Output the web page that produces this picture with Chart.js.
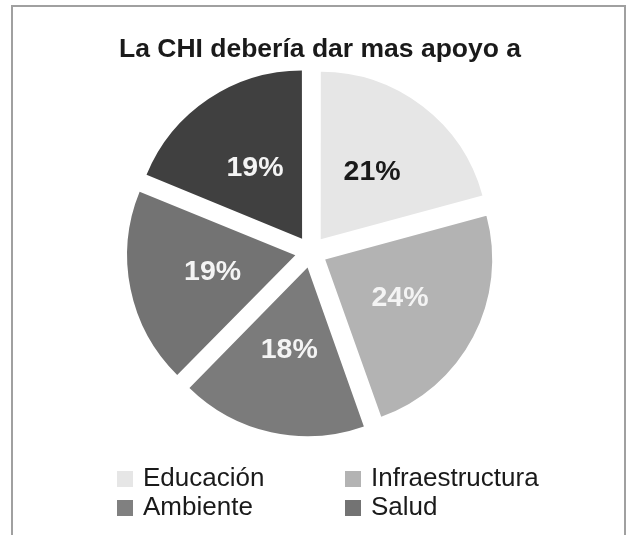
<!DOCTYPE html>
<html lang="es">
<head>
<meta charset="utf-8">
<title>La CHI debería dar mas apoyo a</title>
<script src="https://cdn.jsdelivr.net/npm/chart.js@4/dist/chart.umd.min.js"></script>
<style>
  html, body { margin: 0; padding: 0; background: #fff; overflow: hidden; }
  body { width: 628px; height: 535px; position: relative; font-family: "Liberation Sans", Arial, sans-serif; }
  .frame {
    position: absolute; left: 11px; top: 5px; width: 615px; height: 580px;
    border: 2px solid #a0a0a0; box-sizing: border-box;
  }
  #chartWrap { position: absolute; left: 0; top: 0; width: 628px; height: 535px; }
  #legend {
    position: absolute; left: 117px; top: 463px;
    display: grid; grid-template-columns: 228px 240px; row-gap: 0;
    font-size: 26px; line-height: 29px; color: #1a1a1a;
  }
  #legend .item { display: flex; align-items: center; white-space: nowrap; }
  #legend .box { width: 16px; height: 16px; margin-right: 10px; margin-top: 2px; flex: none; }
</style>
</head>
<body>
<div class="frame"></div>
<div id="chartWrap"><canvas id="pieChart" width="628" height="535"></canvas></div>
<div id="legend"></div>

<script>
// data
const chartTitle = 'La CHI debería dar mas apoyo a';
const categories = ['Educación', 'Infraestructura', 'Ambiente', 'Salud', 'Otros'];
const percentages = [21, 24, 18, 19, 19];
const sliceColors = ['#e6e6e6', '#b3b3b3', '#7b7b7b', '#737373', '#404040'];
const legendColors = ['#e6e6e6', '#b3b3b3', '#808080', '#737373', '#404040'];
const labelColors = ['#1a1a1a', '#f4f4f4', '#f4f4f4', '#f4f4f4', '#f4f4f4'];
// only the first four legend rows are visible in the (cropped) reference
const legendShown = 4;

// title sits a bit right of the pie centre in the reference
const titlePlugin = {
    id: 'titleText',
    afterDraw(chart) {
        const ctx = chart.ctx;
        ctx.save();
        ctx.font = 'bold 26.5px "Liberation Sans", Arial, sans-serif';
        ctx.fillStyle = '#1a1a1a';
        ctx.textAlign = 'center';
        ctx.textBaseline = 'alphabetic';
        ctx.fillText(chartTitle, 320, 57);
        ctx.restore();
    }
};

// percent labels inside each slice
const sliceLabels = {
    id: 'sliceLabels',
    afterDatasetsDraw(chart) {
        const ctx = chart.ctx;
        const meta = chart.getDatasetMeta(0);
        ctx.save();
        ctx.font = 'bold 28.5px "Liberation Sans", Arial, sans-serif';
        ctx.textAlign = 'center';
        ctx.textBaseline = 'middle';
        meta.data.forEach((arc, i) => {
            const p = arc.getProps(['x', 'y', 'startAngle', 'endAngle', 'outerRadius'], true);
            const mid = (p.startAngle + p.endAngle) / 2;
            const dist = p.outerRadius * 0.5 + 17;
            ctx.fillStyle = labelColors[i];
            ctx.fillText(percentages[i] + '%', p.x + Math.cos(mid) * dist, p.y + Math.sin(mid) * dist);
        });
        ctx.restore();
    }
};

try {
    const canvas = document.getElementById('pieChart');
    new Chart(canvas.getContext('2d'), {
        type: 'pie',
        data: {
            labels: categories,
            datasets: [{
                data: percentages,
                backgroundColor: sliceColors,
                borderWidth: 0,
                offset: 64,
                hoverOffset: 0,
                clip: false
            }]
        },
        options: {
            responsive: false,
            animation: false,
            radius: 167,
            layout: { padding: { top: 63, bottom: 94, left: 0, right: 6 } },
            plugins: {
                legend: { display: false },
                tooltip: { enabled: false },
                title: { display: false }
            }
        },
        plugins: [sliceLabels, titlePlugin]
    });
} catch(e) { console.warn('Pie chart failed', e); }

// html legend in two columns
const legendEl = document.getElementById('legend');
categories.slice(0, legendShown).forEach((name, i) => {
    const item = document.createElement('div');
    item.className = 'item';
    const box = document.createElement('span');
    box.className = 'box';
    box.style.background = legendColors[i];
    const txt = document.createElement('span');
    txt.textContent = name;
    item.appendChild(box);
    item.appendChild(txt);
    legendEl.appendChild(item);
});
</script>
</body>
</html>
